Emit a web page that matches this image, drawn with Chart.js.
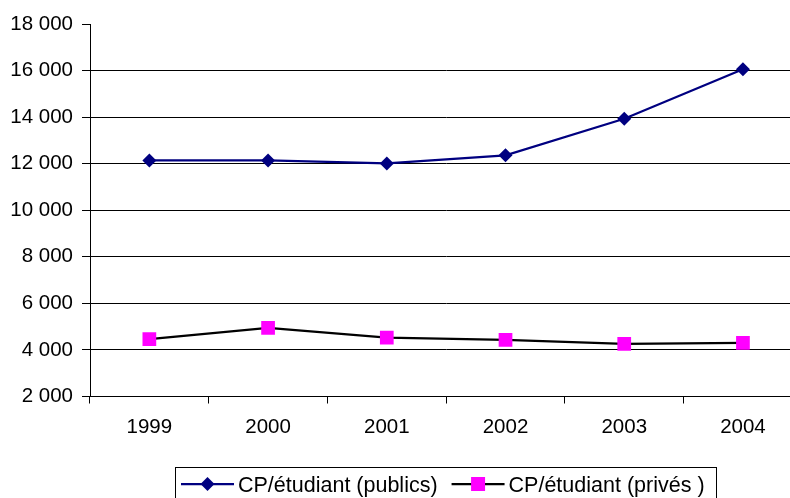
<!DOCTYPE html>
<html>
<head>
<meta charset="utf-8">
<script src="https://cdn.jsdelivr.net/npm/chart.js@4/dist/chart.umd.min.js"></script>
<style>
  html, body { margin: 0; padding: 0; background: #fff; overflow: hidden; }
  canvas { display: block; }
</style>
</head>
<body>
<canvas id="c" width="812" height="498"></canvas>
<script>
// Years on the horizontal axis
const years = ['1999', '2000', '2001', '2002', '2003', '2004'];
// Cost per student, public institutions
const publicValues = [12140, 12140, 12010, 12360, 13930, 16060];
// Cost per student, private institutions
const privateValues = [4460, 4950, 4530, 4430, 4260, 4300];
// Vertical axis range and step
const yMin = 2000, yMax = 18000, yStep = 2000;

const seriesLabels = ['CP/étudiant (publics)', 'CP/étudiant (privés )'];
const FONT = '"Liberation Sans", Arial, sans-serif';

function fmt(v) {
  return String(v).replace(/\B(?=(\d{3})+(?!\d))/g, ' ');
}

// Legend drawn as a boxed row: line + marker + text for each series
const boxLegend = {
  id: 'boxLegend',
  afterDraw(chart) {
    const ctx = chart.ctx;
    const items = chart.data.datasets;
    ctx.save();
    ctx.font = '21.5px ' + FONT;
    ctx.textBaseline = 'alphabetic';
    const top = 467.5, cy = 484;
    const lineLen = 53, gap = 4, itemGap = 14;
    ctx.strokeStyle = '#000';
    ctx.lineWidth = 1;
    ctx.strokeRect(175.5, top, 541, 40);
    let x = 181;
    items.forEach((d) => {
      ctx.strokeStyle = d.borderColor;
      ctx.lineWidth = d.borderWidth;
      ctx.beginPath();
      ctx.moveTo(x, cy);
      ctx.lineTo(x + lineLen, cy);
      ctx.stroke();
      const mx = x + lineLen / 2;
      ctx.fillStyle = d.pointBackgroundColor;
      ctx.beginPath();
      if (d.pointStyle === 'rectRot') {
        const r = 7;
        ctx.moveTo(mx, cy - r); ctx.lineTo(mx + r, cy);
        ctx.lineTo(mx, cy + r); ctx.lineTo(mx - r, cy);
        ctx.closePath();
      } else {
        const s = 7;
        ctx.rect(mx - s, cy - s, 2 * s, 2 * s);
      }
      ctx.fill();
      ctx.fillStyle = '#000';
      const tx = x + lineLen + gap;
      ctx.fillText(d.label, tx, 492);
      x = tx + ctx.measureText(d.label).width + itemGap;
    });
    ctx.restore();
  }
};

new Chart(document.getElementById('c'), {
  type: 'line',
  data: {
    labels: years,
    datasets: [
      {
        label: seriesLabels[0],
        data: publicValues,
        borderColor: '#000080',
        backgroundColor: '#000080',
        borderWidth: 2.25,
        tension: 0,
        pointStyle: 'rectRot',
        pointRadius: 7,
        pointHoverRadius: 7,
        pointBorderWidth: 0,
        pointBackgroundColor: '#000080'
      },
      {
        label: seriesLabels[1],
        data: privateValues,
        borderColor: '#000000',
        backgroundColor: '#FF00FF',
        borderWidth: 2.25,
        tension: 0,
        pointStyle: 'rect',
        pointRadius: 9.7,
        pointHoverRadius: 9.7,
        pointBorderWidth: 0,
        pointBackgroundColor: '#FF00FF'
      }
    ]
  },
  options: {
    responsive: false,
    animation: false,
    events: [],
    layout: { padding: { top: 24, right: 0, left: 0, bottom: 0 } },
    plugins: {
      legend: { display: false },
      tooltip: { enabled: false }
    },
    scales: {
      x: {
        offset: true,
        grid: {
          offset: true,
          drawOnChartArea: false,
          drawTicks: true,
          tickLength: 7,
          tickColor: '#000'
        },
        border: { color: '#000', width: 1 },
        ticks: {
          color: '#000',
          padding: 12,
          font: { family: FONT, size: 20.5 }
        },
        afterFit(s) { s.height = 101.5; }
      },
      y: {
        min: yMin,
        max: yMax,
        grid: {
          color: ctx => (ctx.tick && ctx.tick.value === yMax) ? 'rgba(0,0,0,0)' : '#000',
          tickColor: '#000',
          tickLength: 8,
          lineWidth: 1
        },
        border: { color: '#000', width: 1 },
        ticks: {
          stepSize: yStep,
          color: '#000',
          padding: 9,
          font: { family: FONT, size: 20.5 },
          callback: v => fmt(v)
        },
        afterFit(s) { s.width = 90; }
      }
    }
  },
  plugins: [boxLegend]
});
</script>
</body>
</html>
